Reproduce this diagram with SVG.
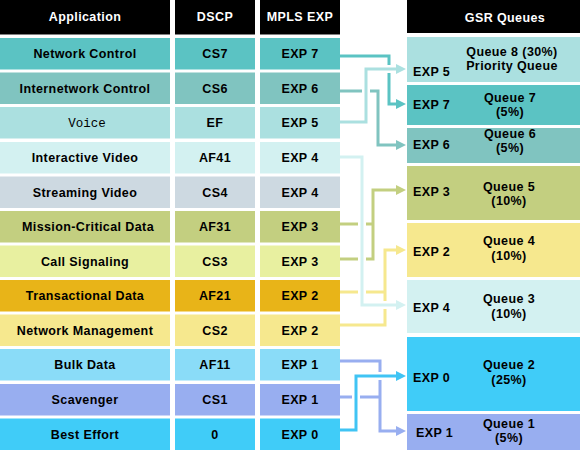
<svg xmlns="http://www.w3.org/2000/svg" width="585" height="470" viewBox="0 0 585 470">
<style>
text{font-family:"Liberation Sans",Arial,sans-serif;font-weight:bold;font-size:12.5px;letter-spacing:.4px;fill:#000}
.m{text-anchor:middle}
.h{fill:#fff;text-anchor:middle}
.mono{font-family:"Liberation Mono","Courier New",monospace;font-weight:normal;letter-spacing:0}
.ln{fill:none;stroke-width:3}
.halo{fill:none;stroke:#fff;stroke-width:8}
</style>
<defs>
<marker id="a7" viewBox="0 0 10 10" refX="1" refY="5" markerWidth="10" markerHeight="10" markerUnits="userSpaceOnUse" orient="auto"><path d="M0,0L10,5L0,10z" fill="#5bc3c3"/></marker>
<marker id="a6" viewBox="0 0 10 10" refX="1" refY="5" markerWidth="10" markerHeight="10" markerUnits="userSpaceOnUse" orient="auto"><path d="M0,0L10,5L0,10z" fill="#80c4c0"/></marker>
<marker id="a5" viewBox="0 0 10 10" refX="1" refY="5" markerWidth="10" markerHeight="10" markerUnits="userSpaceOnUse" orient="auto"><path d="M0,0L10,5L0,10z" fill="#abe0e0"/></marker>
<marker id="a4" viewBox="0 0 10 10" refX="1" refY="5" markerWidth="10" markerHeight="10" markerUnits="userSpaceOnUse" orient="auto"><path d="M0,0L10,5L0,10z" fill="#d3f1f1"/></marker>
<marker id="a3" viewBox="0 0 10 10" refX="1" refY="5" markerWidth="10" markerHeight="10" markerUnits="userSpaceOnUse" orient="auto"><path d="M0,0L10,5L0,10z" fill="#c3cf80"/></marker>
<marker id="a2" viewBox="0 0 10 10" refX="1" refY="5" markerWidth="10" markerHeight="10" markerUnits="userSpaceOnUse" orient="auto"><path d="M0,0L10,5L0,10z" fill="#f6e88e"/></marker>
<marker id="a1" viewBox="0 0 10 10" refX="1" refY="5" markerWidth="10" markerHeight="10" markerUnits="userSpaceOnUse" orient="auto"><path d="M0,0L10,5L0,10z" fill="#98aef0"/></marker>
<marker id="a0" viewBox="0 0 10 10" refX="1" refY="5" markerWidth="10" markerHeight="10" markerUnits="userSpaceOnUse" orient="auto"><path d="M0,0L10,5L0,10z" fill="#40c4f4"/></marker>
</defs>
<rect width="585" height="470" fill="#fff"/>

<g id="header">
<rect x="0" y="0" width="170" height="34.5" fill="#000"/>
<rect x="175" y="0" width="80" height="34.5" fill="#000"/>
<rect x="260" y="0" width="80" height="34.5" fill="#000"/>
<text class="h" x="85" y="21">Application</text>
<text class="h" x="215" y="21">DSCP</text>
<text class="h" x="300" y="21">MPLS EXP</text>
</g>

<g id="row-network-control">
<rect x="0" y="38" width="170" height="31.5" fill="#5bc3c3"/><rect x="175" y="38" width="80" height="31.5" fill="#5bc3c3"/><rect x="260" y="38" width="80" height="31.5" fill="#5bc3c3"/>
<text class="m" x="85" y="58">Network Control</text><text class="m" x="215" y="58">CS7</text><text class="m" x="300" y="58">EXP 7</text>
</g>
<g id="row-internetwork-control">
<rect x="0" y="72.5" width="170" height="31.5" fill="#80c4c0"/><rect x="175" y="72.5" width="80" height="31.5" fill="#80c4c0"/><rect x="260" y="72.5" width="80" height="31.5" fill="#80c4c0"/>
<text class="m" x="85" y="92.5">Internetwork Control</text><text class="m" x="215" y="92.5">CS6</text><text class="m" x="300" y="92.5">EXP 6</text>
</g>
<g id="row-voice">
<rect x="0" y="107" width="170" height="31.5" fill="#abe0e0"/><rect x="175" y="107" width="80" height="31.5" fill="#abe0e0"/><rect x="260" y="107" width="80" height="31.5" fill="#abe0e0"/>
<text class="m mono" x="87" y="127">Voice</text><text class="m" x="215" y="127">EF</text><text class="m" x="300" y="127">EXP 5</text>
</g>
<g id="row-interactive-video">
<rect x="0" y="142" width="170" height="31.5" fill="#d3f1f1"/><rect x="175" y="142" width="80" height="31.5" fill="#d3f1f1"/><rect x="260" y="142" width="80" height="31.5" fill="#d3f1f1"/>
<text class="m" x="85" y="162">Interactive Video</text><text class="m" x="215" y="162">AF41</text><text class="m" x="300" y="162">EXP 4</text>
</g>
<g id="row-streaming-video">
<rect x="0" y="176.5" width="170" height="31.5" fill="#cdd9e1"/><rect x="175" y="176.5" width="80" height="31.5" fill="#cdd9e1"/><rect x="260" y="176.5" width="80" height="31.5" fill="#cdd9e1"/>
<text class="m" x="85" y="196.5">Streaming Video</text><text class="m" x="215" y="196.5">CS4</text><text class="m" x="300" y="196.5">EXP 4</text>
</g>
<g id="row-mission-critical-data">
<rect x="0" y="211" width="170" height="31.5" fill="#c3cf80"/><rect x="175" y="211" width="80" height="31.5" fill="#c3cf80"/><rect x="260" y="211" width="80" height="31.5" fill="#c3cf80"/>
<text class="m" x="88" y="231">Mission-Critical Data</text><text class="m" x="215" y="231">AF31</text><text class="m" x="300" y="231">EXP 3</text>
</g>
<g id="row-call-signaling">
<rect x="0" y="245.5" width="170" height="31.5" fill="#e8f0a0"/><rect x="175" y="245.5" width="80" height="31.5" fill="#e8f0a0"/><rect x="260" y="245.5" width="80" height="31.5" fill="#e8f0a0"/>
<text class="m" x="85" y="265.5">Call Signaling</text><text class="m" x="215" y="265.5">CS3</text><text class="m" x="300" y="265.5">EXP 3</text>
</g>
<g id="row-transactional-data">
<rect x="0" y="280" width="170" height="31.5" fill="#e8b418"/><rect x="175" y="280" width="80" height="31.5" fill="#e8b418"/><rect x="260" y="280" width="80" height="31.5" fill="#e8b418"/>
<text class="m" x="85" y="300">Transactional Data</text><text class="m" x="215" y="300">AF21</text><text class="m" x="300" y="300">EXP 2</text>
</g>
<g id="row-network-management">
<rect x="0" y="314.5" width="170" height="31.5" fill="#f6e88e"/><rect x="175" y="314.5" width="80" height="31.5" fill="#f6e88e"/><rect x="260" y="314.5" width="80" height="31.5" fill="#f6e88e"/>
<text class="m" x="85" y="334.5">Network Management</text><text class="m" x="215" y="334.5">CS2</text><text class="m" x="300" y="334.5">EXP 2</text>
</g>
<g id="row-bulk-data">
<rect x="0" y="349" width="170" height="31.5" fill="#8adcf8"/><rect x="175" y="349" width="80" height="31.5" fill="#8adcf8"/><rect x="260" y="349" width="80" height="31.5" fill="#8adcf8"/>
<text class="m" x="85" y="369">Bulk Data</text><text class="m" x="215" y="369">AF11</text><text class="m" x="300" y="369">EXP 1</text>
</g>
<g id="row-scavenger">
<rect x="0" y="384" width="170" height="31.5" fill="#98aef0"/><rect x="175" y="384" width="80" height="31.5" fill="#98aef0"/><rect x="260" y="384" width="80" height="31.5" fill="#98aef0"/>
<text class="m" x="85" y="404">Scavenger</text><text class="m" x="215" y="404">CS1</text><text class="m" x="300" y="404">EXP 1</text>
</g>
<g id="row-best-effort">
<rect x="0" y="418.5" width="170" height="31.5" fill="#40ccf8"/><rect x="175" y="418.5" width="80" height="31.5" fill="#40ccf8"/><rect x="260" y="418.5" width="80" height="31.5" fill="#40ccf8"/>
<text class="m" x="85" y="438.5">Best Effort</text><text class="m" x="215" y="438.5">0</text><text class="m" x="300" y="438.5">EXP 0</text>
</g>

<g id="gsr-header">
<rect x="407" y="0" width="173" height="33" fill="#000"/>
<text class="h" x="505" y="22">GSR Queues</text>
</g>
<g id="queue-8">
<rect x="407" y="37" width="173" height="45" fill="#abe0e0"/>
<text x="413" y="76">EXP 5</text>
<text class="m" x="512" y="56">Queue 8 (30%)</text>
<text class="m" x="512" y="70">Priority Queue</text>
</g>
<g id="queue-7">
<rect x="407" y="85" width="173" height="40" fill="#5bc3c3"/>
<text x="413" y="109">EXP 7</text>
<text class="m" x="510" y="102">Queue 7</text>
<text class="m" x="510" y="116">(5%)</text>
</g>
<g id="queue-6">
<rect x="407" y="128" width="173" height="35" fill="#80c4c0"/>
<text x="413" y="149">EXP 6</text>
<text class="m" x="510" y="138">Queue 6</text>
<text class="m" x="510" y="152">(5%)</text>
</g>
<g id="queue-5">
<rect x="407" y="166" width="173" height="54" fill="#c3cf80"/>
<text x="413" y="196">EXP 3</text>
<text class="m" x="509" y="191">Queue 5</text>
<text class="m" x="509" y="205">(10%)</text>
</g>
<g id="queue-4">
<rect x="407" y="223" width="173" height="54" fill="#f6e88e"/>
<text x="413" y="256">EXP 2</text>
<text class="m" x="509" y="245">Queue 4</text>
<text class="m" x="509" y="260">(10%)</text>
</g>
<g id="queue-3">
<rect x="407" y="280" width="173" height="53" fill="#d3f1f1"/>
<text x="413" y="312">EXP 4</text>
<text class="m" x="509" y="303">Queue 3</text>
<text class="m" x="509" y="318">(10%)</text>
</g>
<g id="queue-2">
<rect x="407" y="337" width="173" height="74" fill="#40ccf8"/>
<text x="413" y="382">EXP 0</text>
<text class="m" x="509" y="369">Queue 2</text>
<text class="m" x="509" y="384">(25%)</text>
</g>
<g id="queue-1">
<rect x="407" y="414" width="173" height="36" fill="#98aef0"/>
<text x="416" y="437">EXP 1</text>
<text class="m" x="509" y="428">Queue 1</text>
<text class="m" x="509" y="442">(5%)</text>
</g>

<g id="connectors">
<path class="ln" stroke="#80c4c0" marker-end="url(#a6)" d="M340,91H378V145H397"/>
<path class="ln" stroke="#5bc3c3" marker-end="url(#a7)" d="M340,56H389V104H397"/>
<path class="halo" d="M366,122V69H394"/>
<path class="ln" stroke="#abe0e0" marker-end="url(#a5)" d="M340,122H366V69H397"/>

<path class="ln" stroke="#c3cf80" d="M340,224H373"/>
<path class="ln" stroke="#c3cf80" marker-end="url(#a3)" d="M340,259H373V190H397"/>
<path class="ln" stroke="#f6e88e" d="M340,292H385"/>
<path class="ln" stroke="#f6e88e" marker-end="url(#a2)" d="M340,325H385V250H397"/>
<path class="halo" d="M362,160V305H394"/>
<path class="ln" stroke="#d3f1f1" marker-end="url(#a4)" d="M340,157H362V305H397"/>

<path class="ln" stroke="#98aef0" d="M340,397H380"/>
<path class="ln" stroke="#98aef0" marker-end="url(#a1)" d="M340,361H380V431H397"/>
<path class="halo" d="M356,427V376H394"/>
<path class="ln" stroke="#40c4f4" marker-end="url(#a0)" d="M340,430H356V376H397"/>
</g>
</svg>
